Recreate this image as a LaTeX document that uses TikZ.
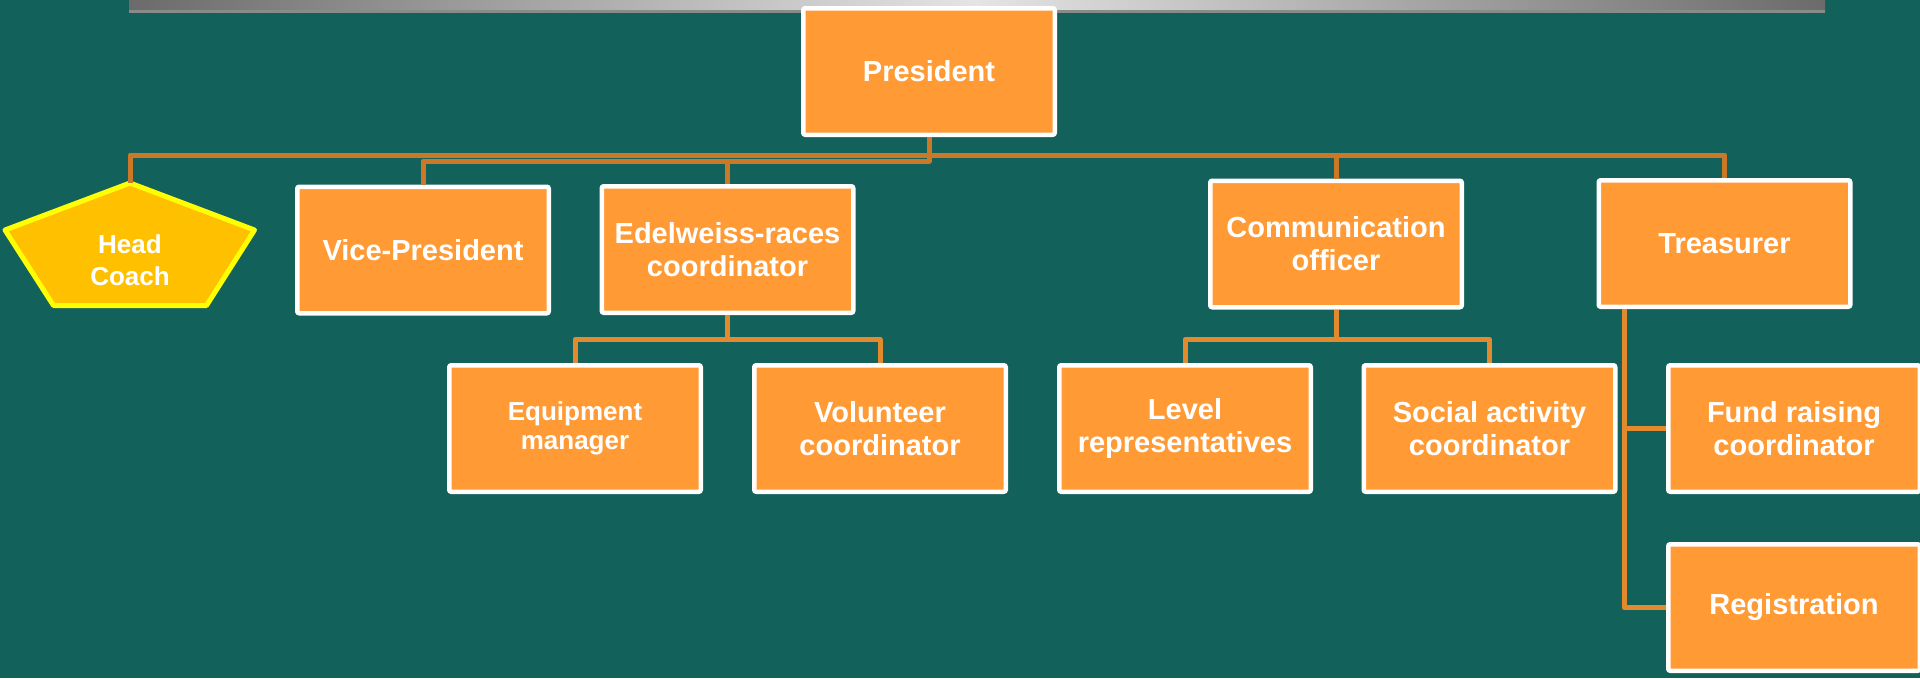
\documentclass[tikz,border=0pt]{standalone}
\usepackage{fontspec}
\setmainfont{Liberation Sans}
\definecolor{bg}{HTML}{12615B}
\definecolor{boxorange}{HTML}{FF9A35}
\definecolor{topline}{HTML}{CC7829}
\definecolor{lowline}{HTML}{E3892E}
\definecolor{hcfill}{HTML}{FFC000}
\definecolor{hcborder}{HTML}{FFFF00}
\definecolor{bargray}{HTML}{6B6B6B}
\definecolor{barlight}{HTML}{E4E4E4}
\definecolor{bardark}{HTML}{8A8A8A}
\begin{document}
\begin{tikzpicture}[x=1pt,y=-1pt,
  box/.style={draw=white, line width=4.5pt, fill=boxorange, rounded corners=2pt,
    minimum width=251.5pt, minimum height=126.5pt, inner sep=0pt, align=center,
    text=white, font=\bfseries\fontsize{29}{33}\selectfont},
  smalltext/.style={font=\bfseries\fontsize{26}{29}\selectfont},
  upperline/.style={draw=topline, line width=5pt, line join=round},
  lowerline/.style={draw=lowline, line width=5pt, line join=round}]
\fill[bg] (0,0) rectangle (1920,678);
\useasboundingbox (0,0) rectangle (1920,678);
% top bar
\shade[left color=bargray, right color=bargray, middle color=barlight] (129,0) rectangle (1825,10);
\fill[bardark] (129,10) rectangle (1825,13);
% nodes
\node[box] (pres) at (929,71.5) {President};
\node[box] (vp) at (423,250) {Vice-President};
\node[box] (edel) at (727.5,249.5) {Edelweiss-races\\coordinator};
\node[box] (comm) at (1336,244) {Communication\\officer};
\node[box] (treas) at (1724.5,243.5) {Treasurer};
\node[box, smalltext] (equip) at (575,428.5) {Equipment\\manager};
\node[box] (vol) at (880,428.5) {Volunteer\\coordinator};
\node[box] (level) at (1185,428.5) {Level\\representatives};
\node[box] (social) at (1489.5,428.5) {Social activity\\coordinator};
\node[box] (fund) at (1794,428.5) {Fund raising\\coordinator};
\node[box] (reg) at (1794,607.5) {Registration};
% head coach pentagon
\coordinate (hctop) at (130,183);
\filldraw[fill=hcfill, draw=hcborder, line width=5pt, line join=round]
  (hctop) -- (254.5,230) -- (206.5,305.5) -- (53.5,305.5) -- (5,230) -- cycle;
\node[text=white, align=center, font=\bfseries\fontsize{26}{32}\selectfont] (hc) at (130,260) {Head\\Coach};
% bus coordinates
\coordinate (busA) at (929,155);
\coordinate (busB) at (929,161);
\coordinate (busC) at (929,339.5);
\coordinate (tx) at (1624,0);
% connectors
\draw[upperline] (hctop) -- (hctop |- busA) -- (treas.north |- busA) -- (treas.north);
\draw[upperline] (comm.north) -- (comm.north |- busA);
\draw[upperline] (pres.south) -- (busB) -- (vp.north |- busB) -- (vp.north);
\draw[upperline] (edel.north) -- (edel.north |- busB);
\draw[lowerline] (edel.south) -- (edel.south |- busC);
\draw[lowerline] (equip.north) -- (equip.north |- busC) -- (vol.north |- busC) -- (vol.north);
\draw[lowerline] (comm.south) -- (comm.south |- busC);
\draw[lowerline] (level.north) -- (level.north |- busC) -- (social.north |- busC) -- (social.north);
\draw[lowerline] (treas.south -| tx) -- (tx |- reg.west) -- (reg.west);
\draw[lowerline] (tx |- fund.west) -- (fund.west);
\end{tikzpicture}
\end{document}
